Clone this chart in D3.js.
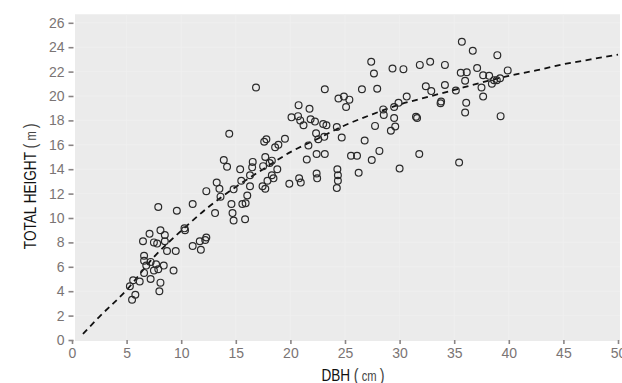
<!DOCTYPE html>
<html>
<head>
<meta charset="utf-8">
<script src="https://cdn.jsdelivr.net/npm/d3@7"></script>
<style>
  html, body { margin: 0; padding: 0; background: #fff; }
  svg { display: block; }
  text { font-family: "Liberation Sans", Arial, Helvetica, sans-serif; }
</style>
</head>
<body>
<svg id="chart" width="622" height="383"></svg>
<script>
// Tree measurements: diameter at breast height (cm) and total height (m)
const dbh = [
  5.5, 5.8, 5.3, 5.6, 6.2, 8.0, 8.1, 7.2, 6.6, 7.5, 7.9, 8.4, 9.3, 6.8, 6.6, 7.2, 7.7, 6.6,
  6.5, 7.1, 7.5, 7.8, 8.1, 8.5, 8.5, 8.7, 9.5, 7.9, 9.6, 10.3, 10.35, 11.05, 11.8, 11.7, 12.2, 12.3,
  11.05, 12.3, 13.1, 13.25, 13.5, 13.6, 13.9, 14.2, 14.4, 14.6, 14.7, 14.8, 14.8, 15.4, 15.5, 15.6,
  15.9, 15.85, 16.05, 16.3, 16.3, 16.5, 16.55, 16.85, 17.45, 17.7, 17.5, 17.7, 17.6, 17.8, 17.9, 18.1,
  18.3, 18.3, 18.45, 18.6, 18.8, 18.9, 19.5, 19.9, 20.1, 20.75, 20.8, 20.95, 20.7, 20.9, 21.2, 21.5,
  21.65, 21.75, 21.85, 22.25, 22.4, 22.45, 22.35, 22.4, 22.55, 23.0, 23.15, 23.3, 23.1, 23.15, 24.25, 24.3,
  24.35, 24.35, 24.25, 24.4, 24.7, 24.9, 25.1, 25.4, 25.55, 26.1, 26.25, 26.55, 26.8, 27.4, 27.65, 27.45,
  27.75, 27.95, 28.15, 28.5, 28.55, 29.2, 29.35, 29.5, 29.6, 29.9, 29.5, 30.0, 30.35, 30.65, 31.5, 31.6,
  31.8, 31.85, 32.4, 32.8, 32.9, 33.75, 33.8, 34.15, 34.15, 35.15, 35.45, 35.7, 35.6, 36.15, 36.0, 36.1,
  36.0, 36.7, 37.1, 37.5, 37.65, 37.65, 38.2, 38.45, 38.65, 38.9, 38.95, 39.2, 39.25, 39.9
];
const height = [
  3.3, 3.7, 4.4, 4.9, 4.8, 4.0, 4.7, 5.0, 5.5, 5.7, 5.8, 6.1, 5.7, 6.1, 6.5, 6.4, 6.2, 6.9,
  8.1, 8.7, 8.0, 7.9, 9.0, 8.6, 8.1, 7.3, 7.3, 10.9, 10.6, 9.15, 9.0, 7.7, 7.4, 8.1, 8.2, 8.4,
  11.15, 12.2, 10.4, 12.9, 12.4, 11.75, 14.75, 14.2, 16.9, 11.15, 10.4, 9.8, 12.35, 14.0, 13.05, 11.15,
  11.2, 9.9, 11.85, 12.6, 13.5, 14.15, 14.6, 20.7, 12.6, 12.4, 14.25, 15.0, 16.25, 16.45, 13.05, 14.5,
  14.7, 13.5, 13.25, 15.8, 14.0, 16.0, 16.5, 12.8, 18.25, 19.25, 13.25, 12.9, 18.35, 18.0, 17.6, 14.8,
  15.95, 18.95, 18.1, 17.9, 13.65, 13.25, 16.95, 15.25, 16.45, 17.7, 15.25, 17.6, 16.65, 20.55, 17.45, 14.0,
  13.5, 13.05, 12.45, 19.8, 16.6, 19.95, 19.1, 19.7, 15.1, 15.1, 13.7, 20.55, 16.35, 22.8, 21.85, 14.75,
  17.55, 20.6, 15.5, 18.9, 18.45, 17.15, 22.25, 18.2, 17.5, 19.45, 19.1, 14.05, 22.2, 19.95, 18.3, 18.2,
  15.25, 22.55, 20.8, 22.8, 20.4, 19.4, 19.55, 22.55, 20.9, 20.45, 14.55, 24.45, 21.9, 21.95, 21.25, 19.45,
  18.65, 23.7, 22.3, 20.7, 21.7, 19.95, 21.65, 21.0, 21.3, 21.3, 23.35, 21.45, 18.35, 22.1
];

// Fitted height–diameter curve
const fitDbh = [1, 2.5, 5, 7.5, 10, 12.5, 15, 17.5, 20, 22.5, 25, 27.5, 30, 32.5, 35, 37.5, 40, 42.5, 45, 47.5, 50];
const fitHeight = [0.5, 1.9, 4.1, 6.8, 8.95, 10.9, 12.55, 14.0, 15.4, 16.5, 17.6, 18.5, 19.3, 19.9, 20.5, 21.1, 21.65, 22.1, 22.6, 23.0, 23.4];

const xTicks = [0, 5, 10, 15, 20, 25, 30, 35, 40, 45, 50];
const yTicks = [0, 2, 4, 6, 8, 10, 12, 14, 16, 18, 20, 22, 24, 26];

const svg = d3.select("#chart");

const x = d3.scaleLinear().domain([0, 50]).range([72, 618]);
const y = d3.scaleLinear().domain([0, 26]).range([340, 22.8]);

// Panel background
svg.append("rect")
  .attr("x", x(0) + 3)
  .attr("y", y(26.7))
  .attr("width", 620 - (x(0) + 3))
  .attr("height", y(0) + 1 - y(26.7))
  .attr("fill", "#ebebeb");

// Faint panel grid
const grid = svg.append("g").attr("stroke", "#efefef").attr("stroke-width", 1);
grid.selectAll("line.h").data(yTicks.slice(1)).join("line")
  .attr("x1", x(0) + 3).attr("x2", 620)
  .attr("y1", d => y(d)).attr("y2", d => y(d));
grid.selectAll("line.v").data(xTicks.slice(1, -1)).join("line")
  .attr("y1", y(26.7)).attr("y2", y(0))
  .attr("x1", d => x(d)).attr("x2", d => x(d));

// Axes
const tickColor = "#8a8585";
const labelColor = "#7a7474";

const yAxis = svg.append("g")
  .attr("transform", `translate(${x(0) + 1.5},0)`)
  .call(d3.axisLeft(y).tickValues(yTicks).tickSize(5).tickPadding(4));
const xAxis = svg.append("g")
  .attr("transform", `translate(0,${y(0)})`)
  .call(d3.axisBottom(x).tickValues(xTicks).tickSize(4).tickPadding(4));

[xAxis, yAxis].forEach(g => {
  g.select(".domain").remove();
  g.selectAll(".tick line").attr("stroke", tickColor).attr("stroke-width", 1.6);
  g.selectAll(".tick text")
    .attr("fill", labelColor)
    .attr("font-size", 14)
    .attr("font-family", "\"Liberation Sans\", Arial, sans-serif");
});

// Fitted curve (dashed)
const line = d3.line()
  .x((d, i) => x(fitDbh[i]))
  .y(d => y(d))
  .curve(d3.curveMonotoneX);
svg.append("path")
  .datum(fitHeight)
  .attr("d", line)
  .attr("fill", "none")
  .attr("stroke", "#111")
  .attr("stroke-width", 1.8)
  .attr("stroke-dasharray", "6,4.5");

// Observations
svg.append("g")
  .selectAll("circle")
  .data(dbh)
  .join("circle")
  .attr("cx", d => x(d))
  .attr("cy", (d, i) => y(height[i]))
  .attr("r", 3.4)
  .attr("fill", "none")
  .attr("stroke", "#2a2a2a")
  .attr("stroke-width", 1.2);

// Axis titles (condensed lettering, unit in light parentheses)
function addTitle(sel, name, unit) {
  sel.append("tspan").attr("font-size", 17).text(name + " ");
  sel.append("tspan").attr("font-size", 18).attr("fill", "#444").text("(");
  sel.append("tspan").attr("font-size", 14).attr("fill", "#444").text(" " + unit + " ");
  sel.append("tspan").attr("font-size", 18).attr("fill", "#444").text(")");
}

const xTitle = svg.append("text")
  .attr("transform", `translate(${x(25) + 8},381) scale(0.8,1)`)
  .attr("text-anchor", "middle")
  .attr("fill", "#111");
addTitle(xTitle, "DBH", "cm");

const yTitle = svg.append("text")
  .attr("transform", `translate(36,${y(12.6)}) rotate(-90) scale(0.8,1)`)
  .attr("text-anchor", "middle")
  .attr("fill", "#111");
addTitle(yTitle, "TOTAL HEIGHT", "m");
</script>
</body>
</html>
